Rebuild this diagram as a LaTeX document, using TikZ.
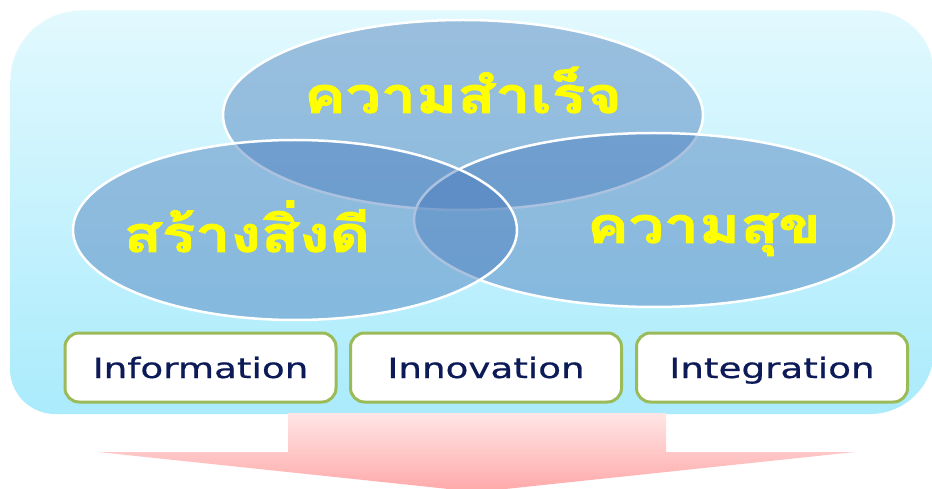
\documentclass[tikz,border=0pt]{standalone}
\usepackage{fontspec}
\usepackage{graphicx}
\newfontfamily\thaifont[Script=Thai,BoldFeatures={FakeBold=1.6}]{Loma}
\newfontfamily\boxfont[FakeBold=0.6]{DejaVu Sans}
\usetikzlibrary{shapes.geometric}
\definecolor{bgtop}{RGB}{226,249,254}
\definecolor{bgbot}{RGB}{170,235,252}
\definecolor{vennblue}{RGB}{76,126,188}
\definecolor{boxgreen}{RGB}{155,187,89}
\definecolor{navy}{RGB}{12,26,88}
\definecolor{pinktop}{RGB}{255,230,230}
\definecolor{pinkbot}{RGB}{255,168,168}
\definecolor{thaiyellow}{RGB}{255,255,0}
\tikzset{
  venn/.style={ellipse, fill=vennblue, fill opacity=0.47, draw=white, draw opacity=1, line width=2.5pt, inner sep=0pt},
  thailabel/.style={text=thaiyellow, font=\thaifont\bfseries\fontsize{50}{60}\selectfont, anchor=base, inner sep=0pt},
  ibox/.style={draw=boxgreen, line width=3pt, fill=white, rounded corners=14pt, minimum width=271pt, minimum height=69pt, inner sep=0pt},
  iboxtext/.style={text=navy, font=\boxfont\fontsize{28}{32}\selectfont, anchor=base, inner sep=0pt}
}
\begin{document}
\begin{tikzpicture}[x=1pt,y=-1pt]
\useasboundingbox (0,0) rectangle (932,489);
% background panel
\path[top color=bgtop, bottom color=bgbot]
  (10,80) arc[start angle=180, end angle=90, x radius=72pt, y radius=70pt]
  -- (870,10) arc[start angle=90, end angle=0, x radius=64pt, y radius=62pt]
  -- (934,350) arc[start angle=0, end angle=-90, x radius=64pt, y radius=64pt]
  -- (55,414) arc[start angle=270, end angle=180, x radius=45pt, y radius=45pt] -- cycle;
\draw[white, opacity=0.6, line width=1.5pt]
  (10,80) arc[start angle=180, end angle=90, x radius=72pt, y radius=70pt]
  -- (870,10) arc[start angle=90, end angle=0, x radius=64pt, y radius=62pt];
% venn ellipses
\node[venn, minimum width=480pt, minimum height=190pt] (top) at (463,115) {};
\node[venn, minimum width=480pt, minimum height=174pt] (right) at (654,220) {};
\node[venn, minimum width=444pt, minimum height=180pt] (left) at (295,230) {};
% labels
\node[thailabel] (ltop) at (463,113) {\scalebox{1.25}[1]{ความสำเร็จ}};
\node[thailabel] (lleft) at (247,252) {\scalebox{1.25}[1]{สร้างสิ่งดี}};
\node[thailabel] (lright) at (704,243) {\scalebox{1.25}[1]{ความสุข}};
% boxes
\node[ibox] (b1) at (200.5,367.5) {};
\node[ibox] (b2) at (486,367.5) {};
\node[ibox] (b3) at (772,367.5) {};
\node[iboxtext] (t1) at (b1.center |- 0,378) {\scalebox{1.33}[1]{Information}};
\node[iboxtext] (t2) at (b2.center |- 0,378) {\scalebox{1.33}[1]{Innovation}};
\node[iboxtext] (t3) at (b3.center |- 0,378) {\scalebox{1.33}[1]{Integration}};
% arrow
\path[top color=pinktop, bottom color=pinkbot]
  (288,413) -- (666,413) -- (666,452) -- (855,452) -- (477,492) -- (98,452) -- (288,452) -- cycle;
\end{tikzpicture}
\end{document}
